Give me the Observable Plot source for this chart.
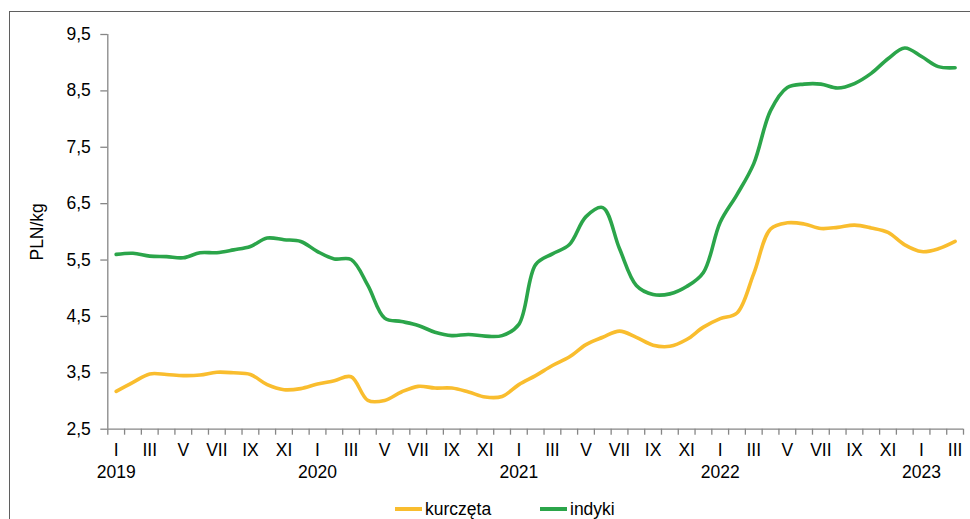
<!DOCTYPE html>
<html>
<head>
<meta charset="utf-8">
<script src="https://cdn.jsdelivr.net/npm/d3@7"></script>
<script src="https://cdn.jsdelivr.net/npm/@observablehq/plot@0.6"></script>
<style>
  html, body { margin: 0; padding: 0; background: #fff; overflow: hidden; width: 970px; height: 519px; }
  body { position: relative; font-family: "Liberation Sans", Arial, sans-serif; }
  #frame { position: absolute; left: 9px; top: 11px; width: 1000px; height: 600px; border-left: 1.5px solid #5f5f5f; border-top: 1.5px solid #5f5f5f; }
  #chart { position: absolute; left: 0; top: 0; }
  .leg { position: absolute; top: 499px; height: 20px; display: flex; align-items: center; font-size: 17.5px; color: #000; }
  .leg .sw { display: inline-block; width: 27px; height: 3.5px; margin-right: 3px; }
</style>
</head>
<body>
<div id="frame"></div>
<div id="chart"></div>
<div class="leg" style="left:395px"><span class="sw" style="background:#F9BD2E"></span>kurczęta</div>
<div class="leg" style="left:540px"><span class="sw" style="background:#2BA54A"></span>indyki</div>
<script>
const years = ["2019", "2020", "2021", "2022", "2023"];
const monthLabels = ["I", "III", "V", "VII", "IX", "XI"];
const seriesNames = ["kurczęta", "indyki"];
const seriesColors = ["#F9BD2E", "#2BA54A"];
const yTicks = [2.5, 3.5, 4.5, 5.5, 6.5, 7.5, 8.5, 9.5];

// I 2019 – III 2023, PLN/kg
const kurczeta = [
  3.17, 3.33, 3.48, 3.47, 3.45, 3.46, 3.51, 3.50, 3.47, 3.29, 3.20, 3.22,
  3.30, 3.36, 3.43, 3.01, 3.01, 3.16, 3.26, 3.23, 3.23, 3.16, 3.07, 3.08,
  3.29, 3.45, 3.63, 3.78, 4.00, 4.13, 4.24, 4.13, 3.99, 3.97, 4.09, 4.31,
  4.46, 4.56, 5.26, 6.05, 6.16, 6.14, 6.06, 6.08, 6.12, 6.07, 5.99, 5.77,
  5.65, 5.70, 5.83
];
const indyki = [
  5.60, 5.62, 5.57, 5.56, 5.54, 5.63, 5.63, 5.68, 5.74, 5.89, 5.86, 5.83,
  5.65, 5.52, 5.51, 5.05, 4.47, 4.41, 4.34, 4.22, 4.16, 4.18, 4.15, 4.16,
  4.36, 5.42, 5.61, 5.77, 6.27, 6.43, 5.70, 5.05, 4.89, 4.90, 5.03, 5.28,
  6.17, 6.66, 7.21, 8.15, 8.56, 8.62, 8.62, 8.55, 8.63, 8.81, 9.07, 9.26,
  9.11, 8.93, 8.91
];

const n = kurczeta.length;
const data = [
  ...kurczeta.map((v, i) => ({ i, v, s: seriesNames[0] })),
  ...indyki.map((v, i) => ({ i, v, s: seriesNames[1] }))
];

const axisGrey = "#868686";
const fmt = d => d.toFixed(1).replace(".", ",");

const chart = Plot.plot({
  width: 970,
  height: 490,
  marginLeft: 107.3,
  marginRight: 7,
  marginTop: 34,
  marginBottom: 61.3,
  style: { fontFamily: "'Liberation Sans', Arial, sans-serif", fontSize: "17.5px", color: "#000", background: "transparent", overflow: "visible" },
  x: { domain: [-0.5, n - 0.5] },
  y: { domain: [2.5, 9.5] },
  color: { domain: seriesNames, range: seriesColors },
  marks: [
    Plot.axisY(yTicks, { tickSize: 7, tickPadding: 10, tickFormat: fmt, stroke: axisGrey, strokeWidth: 1.3, label: null }),
    Plot.axisX(d3.range(n + 1).map(i => i - 0.5), { tickSize: 6, tickFormat: () => "", stroke: axisGrey, strokeWidth: 1.3, label: null }),
    Plot.axisX(d3.range(0, n, 2), { tickSize: 0, tickPadding: 14.5, tickFormat: i => monthLabels[(i % 12) / 2], label: null }),
    Plot.axisX(d3.range(0, n, 12), { tickSize: 0, tickPadding: 36.5, tickFormat: i => years[i / 12], label: null }),
    Plot.ruleX([-0.5], { stroke: axisGrey, strokeWidth: 1.3 }),
    Plot.ruleY([2.5], { stroke: axisGrey, strokeWidth: 1.3 }),
    Plot.text(["PLN/kg"], { frameAnchor: "left", textAnchor: "middle", rotate: -90, dx: -70, fontSize: 17.5, fill: "#000" }),
    Plot.line(data, { x: "i", y: "v", z: "s", stroke: "s", curve: "catmull-rom", strokeWidth: 3.6, strokeLinejoin: "round", strokeLinecap: "round" })
  ]
});
document.getElementById("chart").appendChild(chart);
</script>
</body>
</html>
